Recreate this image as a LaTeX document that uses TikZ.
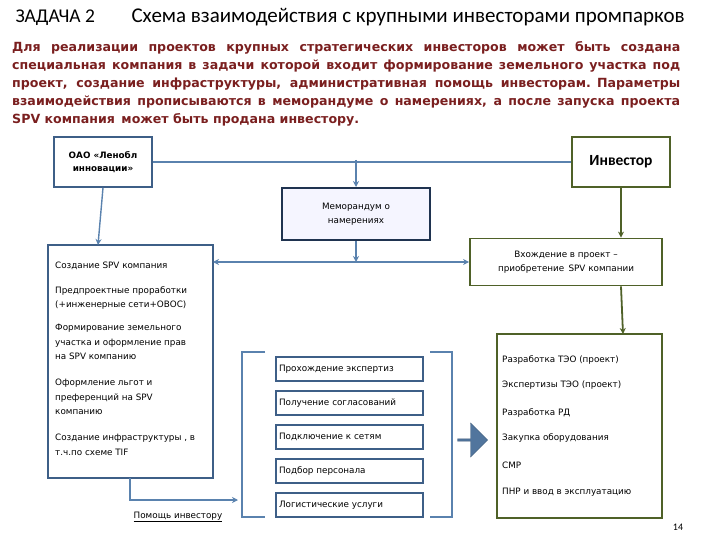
\documentclass[tikz,border=0pt]{standalone}
\usepackage{fontspec}
\setmainfont{Carlito}
\newfontfamily\dvs{DejaVu Sans}
\usetikzlibrary{arrows.meta,shapes.arrows}
\definecolor{bl}{HTML}{5A82AE}
\definecolor{bbox}{HTML}{3E5F87}
\definecolor{ol}{HTML}{4F6128}
\definecolor{navy}{HTML}{1F3350}
\definecolor{red1}{HTML}{7A1F1F}
\begin{document}
\begin{tikzpicture}[x=1pt,y=-1pt,
  bx/.style={draw=bbox,line width=1.6pt},
  ob/.style={draw=ol,line width=1.8pt},
  ib/.style={draw=bbox,line width=1.3pt},
  bar/.style={draw=bl,line width=1.4pt,-{Stealth[length=6pt,width=6pt]}},
  oar/.style={draw=ol,line width=1.8pt,-{Stealth[length=6pt,width=6pt]}},
  sf/.style={font=\dvs\fontsize{8.8}{14.5}\selectfont},
  t/.style={sf,anchor=west,inner sep=0pt}]
\useasboundingbox (0,0) rectangle (720,540);
\node[anchor=west,font=\fontsize{19.5}{22}\selectfont] (z) at (12,18) {ЗАДАЧА 2};
\node[anchor=west,font=\fontsize{21}{24}\selectfont] (h) at (128,17) {Схема взаимодействия с крупными инвесторами промпарков};
\node[anchor=north west,text width=668pt,align=justify,inner sep=0pt,text=red1,font=\dvs\bfseries\fontsize{12.6}{18}\selectfont] (p) at (12,41) {Для реализации проектов крупных стратегических инвесторов может быть создана специальная компания в задачи которой входит формирование земельного участка под проект, создание инфраструктуры, административная помощь инвесторам.\enspace Параметры взаимодействия прописываются в меморандуме о намерениях, а после запуска проекта SPV компания\, может быть продана инвестору.};
% boxes
\node[bx,minimum width=98pt,minimum height=50pt,align=center,font=\dvs\bfseries\fontsize{8.8}{13}\selectfont] (oao) at (103,162) {ОАО «Ленобл\\инновации»};
\node[ob,minimum width=98pt,minimum height=50pt,font=\bfseries\fontsize{15.5}{17}\selectfont] (inv) at (621,162) {Инвестор};
\node[draw=navy,line width=2pt,fill=blue!4,minimum width=148pt,minimum height=52pt,align=center,sf] (mem) at (356,214) {Меморандум о\\намерениях};
\draw[bx] (48,245) rectangle (213,478);
\coordinate (spvT) at (98,245); \coordinate (spvR) at (213,262); \coordinate (spvB) at (130,478);
\node[ob,minimum width=192pt,minimum height=47pt,align=center,sf] (vh) at (566,262) {Вхождение в проект –\\приобретение\, SPV компании};
\draw[ob] (497,334) rectangle (662,518);
\coordinate (rT) at (623,334);
% spv text
\node[t] (s1) at (55,266) {Создание SPV компания};
\node[t,anchor=north west,align=left] (s2) at (55,286) {Предпроектные проработки\\(+инженерные сети+ОВОС)};
\node[t,anchor=north west,align=left] (s3) at (55,324) {Формирование земельного\\участка и оформление прав\\на SPV компанию};
\node[t,anchor=north west,align=left] (s4) at (55,379) {Оформление льгот и\\преференций на SPV\\компанию};
\node[t,anchor=north west,align=left] (s5) at (55,434) {Создание инфраструктуры , в\\т.ч.по схеме TIF};
% right text
\foreach \y/\s [count=\i] in {360/Разработка ТЭО (проект),385/Экспертизы ТЭО (проект),413/Разработка РД,438/Закупка оборудования,465/СМР,492/ПНР и ввод в эксплуатацию}
  \node[t] (r\i) at (502,\y) {\s};
% inner boxes
\foreach \y/\s [count=\i] in {369/Прохождение экспертиз,403/Получение согласований,437/Подключение к сетям,471/Подбор персонала,505/Логистические услуги}
  \node[ib,minimum width=147pt,minimum height=24pt,text width=141pt,inner sep=3pt,align=left,sf] (b\i) at (349.5,\y) {\s};
% brackets
\draw[draw=bl,line width=1.4pt] (265,352) -- (242,352) -- (242,517) -- (265,517);
\draw[draw=bl,line width=1.4pt] (430,352) -- (452,352) -- (452,517) -- (430,517);
\coordinate (brL) at (238,500);
\node[single arrow,fill=bl!90!black,draw=bl!70!black,minimum height=30pt,minimum width=34pt,single arrow head extend=3pt,inner sep=0pt] (ba) at (472,440) {};
% connectors
\coordinate (j1) at (356,160);
\draw[draw=bl,line width=1.4pt] (oao.east) -- (inv.west);
\draw[bar] (j1) -- (mem.north);
\draw[bar] (oao.south) -- (spvT);
\draw[oar] (inv.south) -- (vh.north -| inv.south);
\draw[oar] (vh.south -| inv.south) -- (rT);
\draw[draw=bl,line width=1.4pt,{Stealth[length=6pt,width=6pt]}-{Stealth[length=6pt,width=6pt]}] (spvR) -- (vh.west);
\draw[bar] (mem.south) -- (mem.south |- spvR);
\draw[bar] (spvB) |- (brL);
\node[sf,inner sep=0pt] (pi) at (178,517) {\underline{Помощь инвестору}};
\node[font=\fontsize{10}{10}\selectfont,inner sep=0pt] (n14) at (678,527) {14};
\end{tikzpicture}
\end{document}
